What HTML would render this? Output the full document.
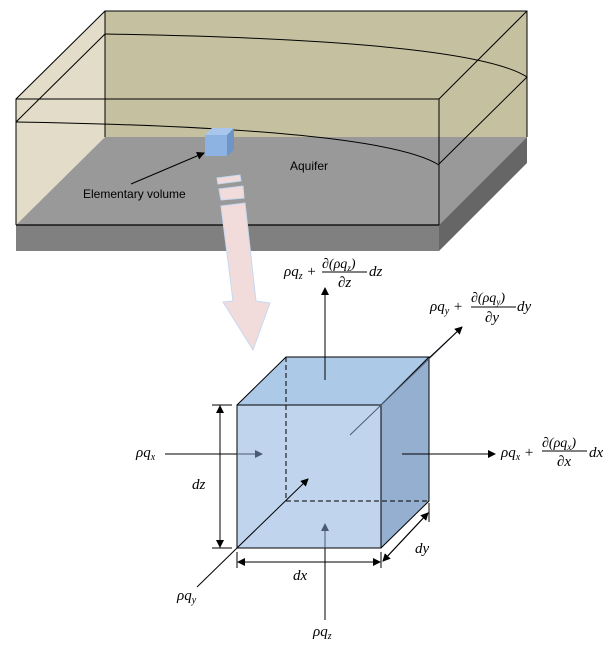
<!DOCTYPE html>
<html><head><meta charset="utf-8"><style>
html,body{margin:0;padding:0;background:#fff;}
svg text{font-family:"Liberation Serif",serif;font-style:italic;fill:#000;}
svg text.s{font-family:"Liberation Sans",sans-serif;font-style:normal;font-size:12px;}
</style></head><body>
<svg width="612" height="648" viewBox="0 0 612 648" xmlns="http://www.w3.org/2000/svg">
<defs>
<marker id="a" markerWidth="8" markerHeight="8" refX="7" refY="4" orient="auto" markerUnits="userSpaceOnUse"><path d="M0,0 L8,4 L0,8 z" fill="#000"/></marker>
<marker id="g" markerWidth="8" markerHeight="8" refX="7" refY="4" orient="auto" markerUnits="userSpaceOnUse"><path d="M0,0 L8,4 L0,8 z" fill="#4a5a70"/></marker>
</defs>
<!-- aquifer box -->
<polygon points="105,11 527,11 527,137 105,137" fill="#c5c0a0"/>
<polygon points="16,99 105,11 105,137 16,225" fill="#e2dcc8"/>
<polygon points="105,137 527,137 439,225 16,225" fill="#999999"/>
<polygon points="16,225 439,225 439,251 16,251" fill="#808080"/>
<polygon points="439,225 527,137 527,163 439,251" fill="#666666"/>
<g fill="none" stroke="#000" stroke-width="1">
<polyline points="16,225 16,99 105,11 527,11 527,137"/>
<line x1="105" y1="11" x2="105" y2="137"/>
<polyline points="16,99 439,99 527,11"/>
<line x1="439" y1="99" x2="439" y2="225"/>
<line x1="16" y1="225" x2="439" y2="225" stroke-width="1.3"/>
<line x1="105" y1="34" x2="16" y2="122"/>
<line x1="527" y1="77" x2="439" y2="164"/>
<path d="M105,34 Q470,40 527,77"/>
<path d="M16,122 Q380,128 439,165"/>
</g>
<!-- small cube -->
<polygon points="205,135 227,135 227,156 205,156" fill="#8db3e2"/>
<polygon points="205,135 212,128 234,128 227,135" fill="#a9c6ec"/>
<polygon points="227,135 234,128 234,150 227,156" fill="#6f95c6"/>
<line x1="131" y1="184" x2="204" y2="153" stroke="#000" marker-end="url(#a)"/>
<text class="s" x="83" y="198">Elementary volume</text>
<text class="s" x="290" y="170">Aquifer</text>
<!-- pink arrow -->
<g fill="#f2dcdb" stroke="#c6d9f1" stroke-width="1">
<polygon points="217,178 240,175 241,181 218,184"/>
<polygon points="219,189 243,186 244,198 221,200"/>
<polygon points="221,206 245,203 256,301 270,303 253,350 223,302 233,301"/>
</g>
<!-- cube -->
<polygon points="237,405 286,357 429,357 381,405" fill="#adc9e8"/>
<polygon points="381,405 429,357 429,501 381,548" fill="#94afcf"/>
<polygon points="237,405 381,405 381,548 237,548" fill="#bdd3ec" fill-opacity="0.95"/>
<g fill="none" stroke="#000" stroke-width="1">
<polygon points="237,405 381,405 381,548 237,548"/>
<polyline points="237,405 286,357 429,357 429,501 381,548"/>
<line x1="381" y1="405" x2="429" y2="357"/>
<path d="M286,357 V501 H429" stroke-dasharray="5,3"/>
</g>
<!-- arrows -->
<g stroke="#000" stroke-width="1" fill="none">
<line x1="325" y1="380" x2="325" y2="288" marker-end="url(#a)"/>
<line x1="350" y1="435" x2="462" y2="327" stroke="#4a5a70"/>
<line x1="429" y1="358" x2="462" y2="327" marker-end="url(#a)"/>
<line x1="402" y1="454" x2="495" y2="454" marker-end="url(#a)"/>
<line x1="165" y1="454" x2="237" y2="454"/>
<line x1="237" y1="454" x2="262" y2="454" stroke="#4a5a70" marker-end="url(#g)"/>
<line x1="197" y1="587" x2="237" y2="548"/>
<line x1="237" y1="548" x2="308" y2="479" marker-end="url(#a)"/>
<line x1="325" y1="620" x2="325" y2="548"/>
<line x1="325" y1="548" x2="325" y2="524" stroke="#4a5a70" marker-end="url(#g)"/>
<!-- dims -->
<line x1="212" y1="405" x2="232" y2="405"/>
<line x1="212" y1="548" x2="232" y2="548"/>
<line x1="220" y1="548" x2="220" y2="406" marker-end="url(#a)"/>
<line x1="220" y1="405" x2="220" y2="547" marker-end="url(#a)"/>
<line x1="237" y1="552" x2="237" y2="568"/>
<line x1="381" y1="552" x2="381" y2="568"/>
<line x1="238" y1="562" x2="380" y2="562" marker-end="url(#a)"/>
<line x1="380" y1="562" x2="238" y2="562" marker-end="url(#a)"/>
<line x1="429" y1="503" x2="429" y2="522"/>
<line x1="383" y1="561" x2="428" y2="513" marker-end="url(#a)"/>
<line x1="428" y1="513" x2="383" y2="561" marker-end="url(#a)"/>
</g>
<!-- labels -->
<g font-size="15">
<text x="284" y="276">ρq<tspan font-size="10" dy="3">z</tspan><tspan dy="-3"> +</tspan></text>
<text x="322" y="268" font-size="14">∂(ρq<tspan font-size="9" dy="3">z</tspan><tspan dy="-3">)</tspan></text>
<line x1="322" y1="272" x2="367" y2="272" stroke="#000"/>
<text x="338" y="287">∂z</text>
<text x="369" y="276">dz</text>

<text x="430" y="311">ρq<tspan font-size="10" dy="3">y</tspan><tspan dy="-3"> +</tspan></text>
<text x="471" y="302" font-size="14">∂(ρq<tspan font-size="9" dy="3">y</tspan><tspan dy="-3">)</tspan></text>
<line x1="471" y1="307" x2="516" y2="307" stroke="#000"/>
<text x="485" y="322">∂y</text>
<text x="517" y="311">dy</text>

<text x="501" y="457">ρq<tspan font-size="10" dy="3">x</tspan><tspan dy="-3"> +</tspan></text>
<text x="542" y="447" font-size="14">∂(ρq<tspan font-size="9" dy="3">x</tspan><tspan dy="-3">)</tspan></text>
<line x1="542" y1="451" x2="587" y2="451" stroke="#000"/>
<text x="557" y="466">∂x</text>
<text x="589" y="457">dx</text>

<text x="136" y="457">ρq<tspan font-size="10" dy="3">x</tspan></text>
<text x="192" y="489">dz</text>
<text x="293" y="580">dx</text>
<text x="415" y="553">dy</text>
<text x="177" y="600">ρq<tspan font-size="10" dy="3">y</tspan></text>
<text x="313" y="636">ρq<tspan font-size="10" dy="3">z</tspan></text>
</g>
</svg>
</body></html>
